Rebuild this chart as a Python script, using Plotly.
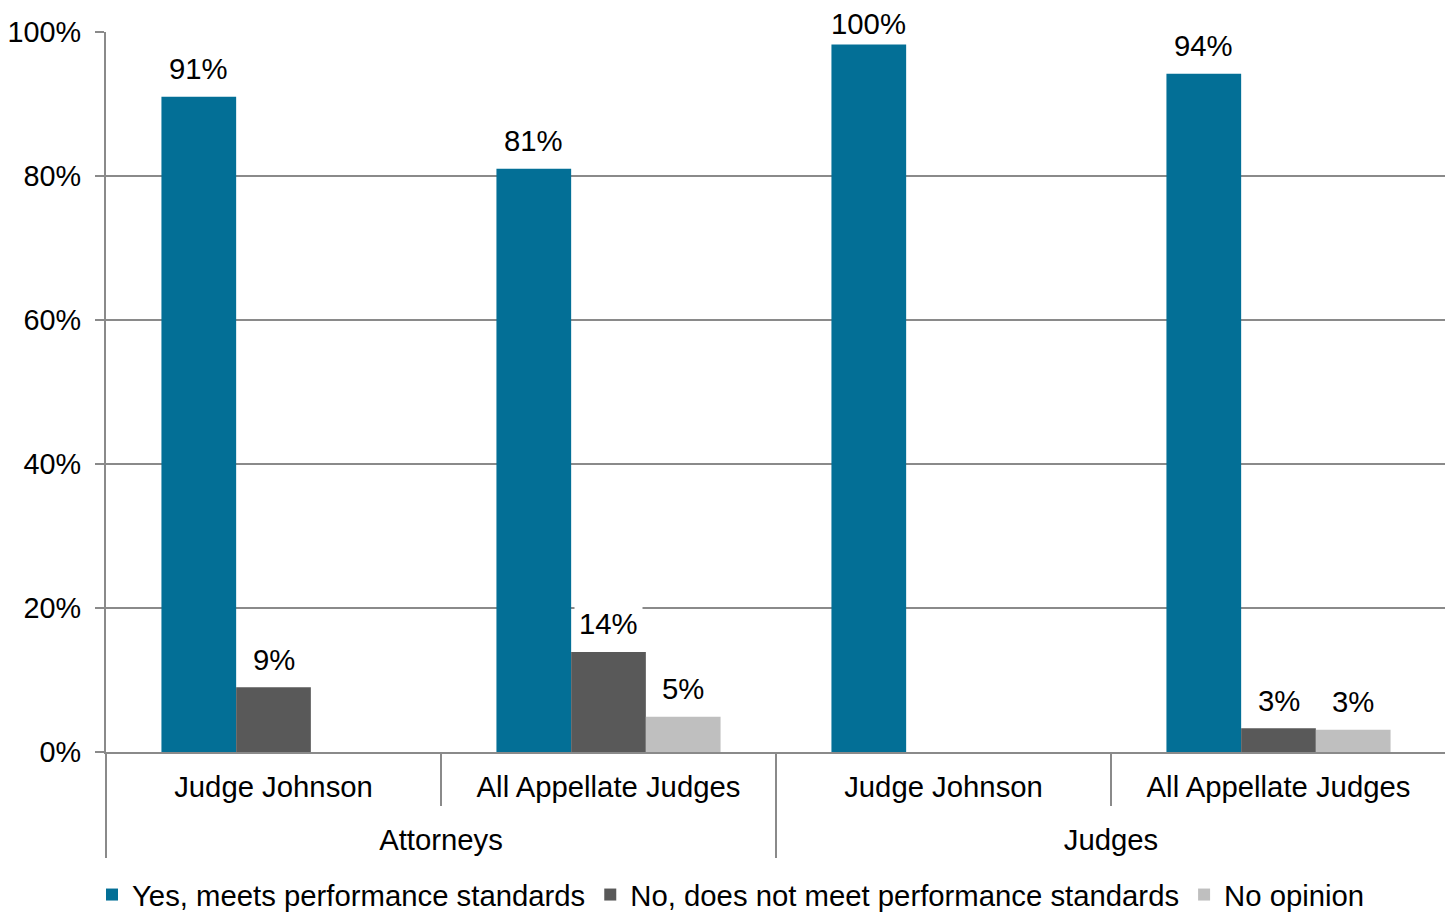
import plotly.graph_objects as go

# ---- data ----
outer_groups = ["Attorneys", "Attorneys", "Judges", "Judges"]
inner_groups = ["Judge Johnson", "All Appellate Judges", "Judge Johnson", "All Appellate Judges"]

series_names = ["Yes, meets performance standards",
                "No, does not meet performance standards",
                "No opinion"]
yes_values = [91.0, 81.0, 98.4, 94.2]
no_values = [9.0, 13.9, 0.0, 3.3]
noop_values = [0.0, 4.9, 0.0, 3.1]

yes_labels = ["91%", "81%", "100%", "94%"]
no_labels = ["9%", "14%", "", "3%"]
noop_labels = ["", "5%", "", "3%"]

y_tick_vals = [0, 20, 40, 60, 80, 100]
y_tick_text = ["0%", "20%", "40%", "60%", "80%", "100%"]

# ---- style ----
colors = ["#036F96", "#595959", "#BFBFBF"]
FONT = "Liberation Sans, Arial, sans-serif"
FS = 29.3
GRID = "#8A8A8A"
TXT = "#000000"
BARGAP = 0.331
W, H = 1445, 904          # page body adds an 8px offset
M = dict(l=98, r=7, t=24, b=160)
Y_RANGE = [0, 100]
PLOT_H = H - M["t"] - M["b"]
PX_PER_UNIT = PLOT_H / (Y_RANGE[1] - Y_RANGE[0])
LABEL_LIFT_PX = 28        # label centre above bar top
LABEL_MAX_PX = 9          # label centre may sit at most this far above plot top

series_values = [yes_values, no_values, noop_values]
series_labels = [yes_labels, no_labels, noop_labels]

# category positions and group structure (derived from the category lists)
pos = list(range(len(inner_groups)))
inner_bounds = [p - 0.5 for p in pos] + [pos[-1] + 0.5]
outer_names, outer_centers, outer_bounds = [], [], [pos[0] - 0.5]
start = 0
for i in range(1, len(outer_groups) + 1):
    if i == len(outer_groups) or outer_groups[i] != outer_groups[start]:
        outer_names.append(outer_groups[start])
        outer_centers.append((pos[start] + pos[i - 1]) / 2)
        outer_bounds.append(pos[i - 1] + 0.5)
        start = i
x_range = [pos[0] - 0.5, pos[-1] + 0.5]

fig = go.Figure()
for name, vals, col in zip(series_names, series_values, colors):
    fig.add_trace(go.Bar(
        x=pos, y=vals, name=name,
        marker=dict(color=col, line=dict(width=0)),
        hoverinfo="skip",
    ))

# empty helper traces so the overlay axes (dividers / outer labels) are drawn
for ax in ["x2", "x3", "x4"]:
    fig.add_trace(go.Scatter(x=[], y=[], xaxis=ax, yaxis="y", mode="markers",
                             showlegend=False, hoverinfo="skip"))

# value labels with white background boxes
bw = (1 - BARGAP) / len(series_names)
y_cap = Y_RANGE[1] + LABEL_MAX_PX / PX_PER_UNIT
for si, labels in enumerate(series_labels):
    off = (si - (len(series_names) - 1) / 2) * bw
    for ci, lab in enumerate(labels):
        if not lab:
            continue
        v = series_values[si][ci]
        y_target = min(v + LABEL_LIFT_PX / PX_PER_UNIT, y_cap)
        y_anchor = min(y_target, Y_RANGE[1])   # keep anchor inside the axis range
        fig.add_annotation(
            x=pos[ci] + off, y=y_anchor, xref="x", yref="y",
            yshift=(y_target - y_anchor) * PX_PER_UNIT,
            text=lab, showarrow=False, yanchor="middle",
            bgcolor="white", borderpad=4,
            font=dict(family=FONT, size=FS, color=TXT),
        )

tickfont = dict(family=FONT, size=FS, color=TXT)
fig.update_layout(
    width=W, height=H,
    margin=M,
    plot_bgcolor="white", paper_bgcolor="white",
    barmode="group", bargap=BARGAP, bargroupgap=0,
    font=dict(family=FONT, size=FS, color=TXT),
    showlegend=True,
    legend=dict(
        orientation="h", xref="container", yref="container",
        x=84 / W, xanchor="left", y=1 - 887 / H, yanchor="middle",
        font=dict(family=FONT, size=FS, color=TXT),
        traceorder="normal", itemclick=False,
    ),
    # main axis: inner category labels
    xaxis=dict(
        range=x_range, tickmode="array", tickvals=pos, ticktext=inner_groups,
        ticks="", showline=True, linecolor=GRID, linewidth=2, automargin=False,
        showgrid=False, zeroline=False, tickfont=tickfont, ticklabelstandoff=8,
    ),
    # inner dividers
    xaxis2=dict(
        overlaying="x", anchor="y", side="bottom", range=x_range, automargin=False,
        tickmode="array", tickvals=inner_bounds, showticklabels=False,
        ticks="outside", ticklen=53, tickcolor=GRID, tickwidth=2,
        showline=False, showgrid=False, zeroline=False,
    ),
    # outer category labels
    xaxis3=dict(
        overlaying="x", anchor="y", side="bottom", range=x_range, automargin=False,
        tickmode="array", tickvals=outer_centers, ticktext=outer_names,
        ticks="", showline=False, showgrid=False, zeroline=False,
        tickfont=tickfont, ticklabelstandoff=68,
    ),
    # outer dividers
    xaxis4=dict(
        overlaying="x", anchor="y", side="bottom", range=x_range, automargin=False,
        tickmode="array", tickvals=outer_bounds, showticklabels=False,
        ticks="outside", ticklen=105, tickcolor=GRID, tickwidth=2,
        showline=False, showgrid=False, zeroline=False,
    ),
    yaxis=dict(
        range=Y_RANGE, tickmode="array", tickvals=y_tick_vals, ticktext=y_tick_text,
        showgrid=True, gridcolor=GRID, gridwidth=2, automargin=False,
        showline=True, linecolor=GRID, linewidth=2,
        ticks="outside", ticklen=9, tickcolor=GRID, tickwidth=2,
        zeroline=False, ticklabelstandoff=8,
        tickfont=dict(family=FONT, size=28.8, color=TXT),
    ),
)

fig.write_html("out.html")
